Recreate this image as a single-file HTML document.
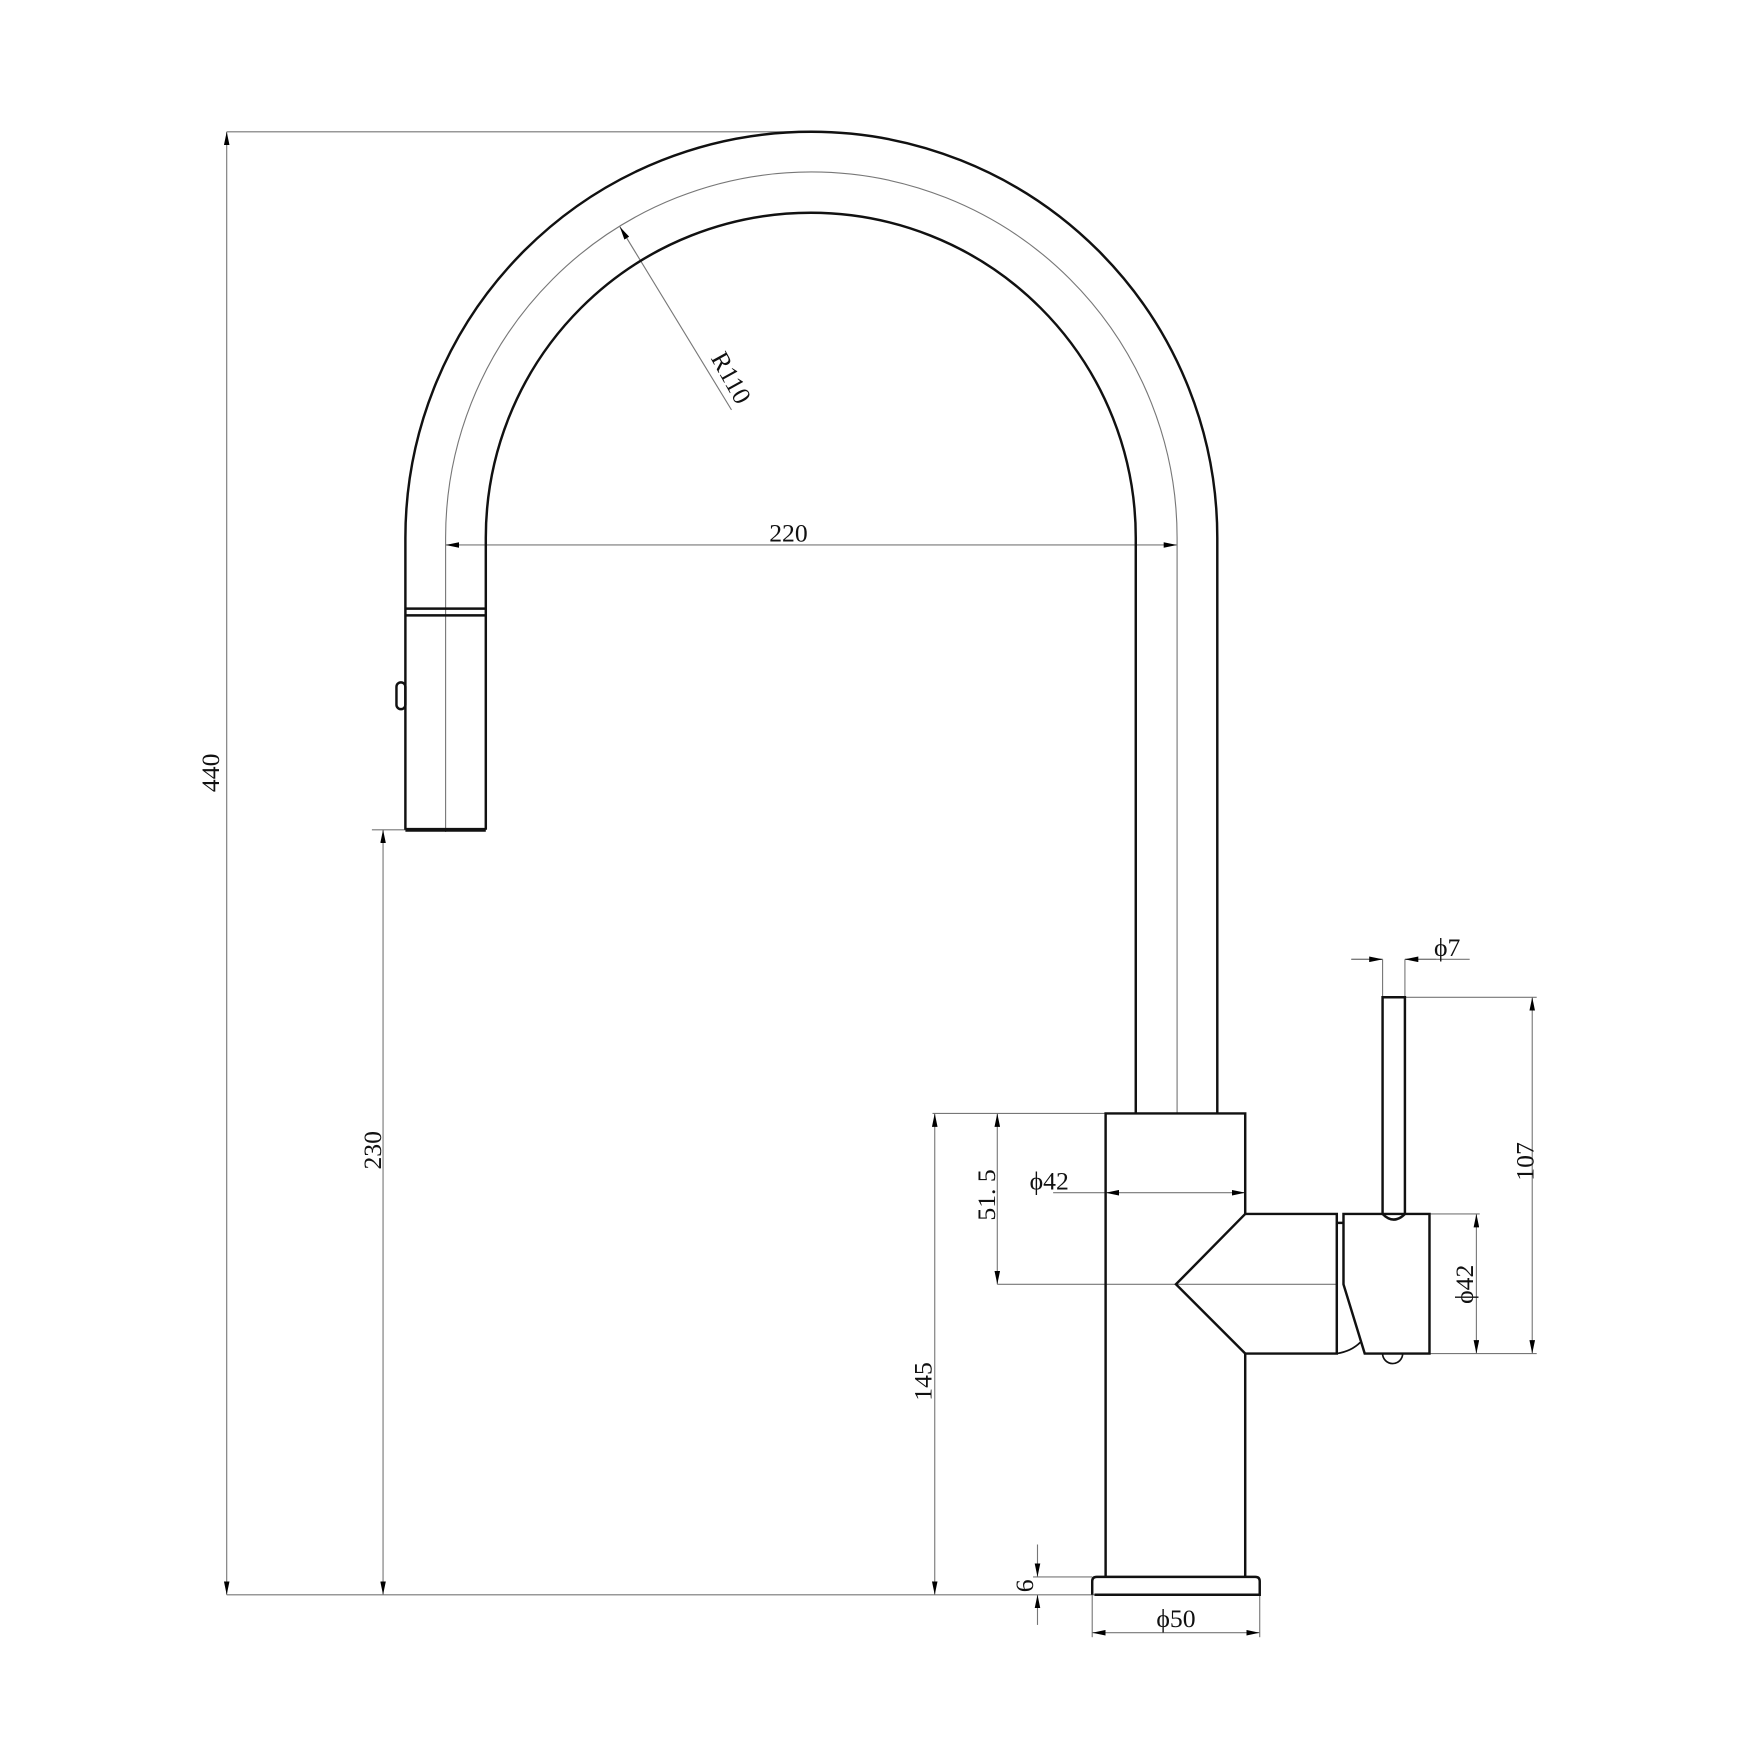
<!DOCTYPE html>
<html><head><style>html,body{margin:0;padding:0;background:#fff}svg{display:block}</style></head>
<body>
<svg width="1750" height="1750" viewBox="0 0 1567 1567" xmlns="http://www.w3.org/2000/svg" font-family="Liberation Serif, serif" font-size="23" fill="none">
<defs>
<marker id="a" viewBox="0 0 12 5" refX="12" refY="2.5" markerWidth="12" markerHeight="5" markerUnits="userSpaceOnUse" orient="auto-start-reverse"><path d="M0,0L12,2.5L0,5z" fill="#000"/></marker>
</defs>
<g stroke="#777" stroke-width="1">
<line x1="203" y1="118" x2="730" y2="118"/>
<line x1="203" y1="1428" x2="980" y2="1428"/>
<line x1="333" y1="743" x2="363" y2="743"/>
<line x1="835" y1="997" x2="990" y2="997"/>
<line x1="893" y1="1150" x2="1197" y2="1150"/>
<line x1="943" y1="1068" x2="990" y2="1068"/>
<line x1="1238" y1="859" x2="1238" y2="893"/>
<line x1="1258" y1="859" x2="1258" y2="893"/>
<line x1="1210" y1="859" x2="1238" y2="859"/>
<line x1="1258" y1="859" x2="1316" y2="859"/>
<line x1="1258" y1="893" x2="1376" y2="893"/>
<line x1="1280" y1="1212" x2="1376" y2="1212"/>
<line x1="1280" y1="1087" x2="1325" y2="1087"/>
<line x1="925" y1="1412" x2="978" y2="1412"/>
<line x1="978" y1="1428" x2="978" y2="1466"/>
<line x1="1128" y1="1428" x2="1128" y2="1466"/>
<line x1="929" y1="1383" x2="929" y2="1412" marker-end="url(#a)"/>
<line x1="929" y1="1455" x2="929" y2="1428" marker-end="url(#a)"/>
<line x1="203" y1="118" x2="203" y2="1428" marker-start="url(#a)" marker-end="url(#a)"/>
<line x1="343" y1="743" x2="343" y2="1428" marker-start="url(#a)" marker-end="url(#a)"/>
<line x1="837" y1="997" x2="837" y2="1428" marker-start="url(#a)" marker-end="url(#a)"/>
<line x1="893" y1="997" x2="893" y2="1150" marker-start="url(#a)" marker-end="url(#a)"/>
<line x1="990" y1="1068" x2="1115" y2="1068" marker-start="url(#a)" marker-end="url(#a)"/>
<line x1="399" y1="488" x2="1054" y2="488" marker-start="url(#a)" marker-end="url(#a)"/>
<line x1="1210" y1="859" x2="1238" y2="859" marker-end="url(#a)"/>
<line x1="1286" y1="859" x2="1258" y2="859" marker-end="url(#a)"/>
<line x1="1372" y1="893" x2="1372" y2="1212" marker-start="url(#a)" marker-end="url(#a)"/>
<line x1="1322" y1="1087" x2="1322" y2="1212" marker-start="url(#a)" marker-end="url(#a)"/>
<line x1="978" y1="1462" x2="1128" y2="1462" marker-start="url(#a)" marker-end="url(#a)"/>
<line x1="655" y1="367" x2="555" y2="203" marker-end="url(#a)"/>
<path d="M399,745 V481.5 A327.5,327.5 0 0 1 1054,481.5 V997"/>
</g>
<g stroke="#111" stroke-width="2.2">
<path d="M363,743 V481.5 A363.5,363.5 0 0 1 1090,481.5 V997"/>
<path d="M435,743 V481.5 A291,291 0 0 1 1017,481.5 V997"/>
<line x1="363" y1="545" x2="435" y2="545"/>
<line x1="363" y1="551" x2="435" y2="551"/>
<line x1="363" y1="743" x2="435" y2="743" stroke-width="3.5"/>
<rect x="355" y="611" width="8" height="24" rx="4"/>
<path d="M990,1412 V997 H1115 V1087 H1197 V1212 H1115 V1412"/>
<path d="M1115,1087 L1053,1150 L1115,1212"/>
<path d="M980,1428 H1128 V1416 Q1128,1412 1124,1412 H982 Q978,1412 978,1416 V1428" />
<line x1="1197" y1="1095" x2="1203" y2="1095"/>
<path d="M1203,1087 H1280 V1212 H1222 L1203,1150 Z"/>
<path d="M1197,1212 Q1210,1210 1218,1202" stroke-width="1.5"/>
<path d="M1238,1212 A9,9 0 0 0 1256,1212" stroke-width="1.5"/>
<path d="M1238,1087 V893 H1258 V1087 Q1248,1097 1238,1087"/>
</g>
<g fill="#111" stroke="none">
<text x="196" y="692" text-anchor="middle" transform="rotate(-90 196 692)">440</text>
<text x="341" y="1030" text-anchor="middle" transform="rotate(-90 341 1030)">230</text>
<text x="834" y="1237" text-anchor="middle" transform="rotate(-90 834 1237)">145</text>
<text x="891" y="1070" text-anchor="middle" transform="rotate(-90 891 1070)">51. 5</text>
<text x="925" y="1420" text-anchor="middle" transform="rotate(-90 925 1420)">6</text>
<text x="1373" y="1040" text-anchor="middle" transform="rotate(-90 1373 1040)">107</text>
<text x="1319" y="1150" text-anchor="middle" transform="rotate(-90 1319 1150)">ϕ42</text>
<text x="706" y="485" text-anchor="middle">220</text>
<text x="922" y="1065">ϕ42</text>
<text x="1284" y="856">ϕ7</text>
<text x="1053" y="1457" text-anchor="middle">ϕ50</text>
<text x="648" y="342" text-anchor="middle" transform="rotate(61 648 342)">R110</text>
</g>
</svg>
</body></html>
